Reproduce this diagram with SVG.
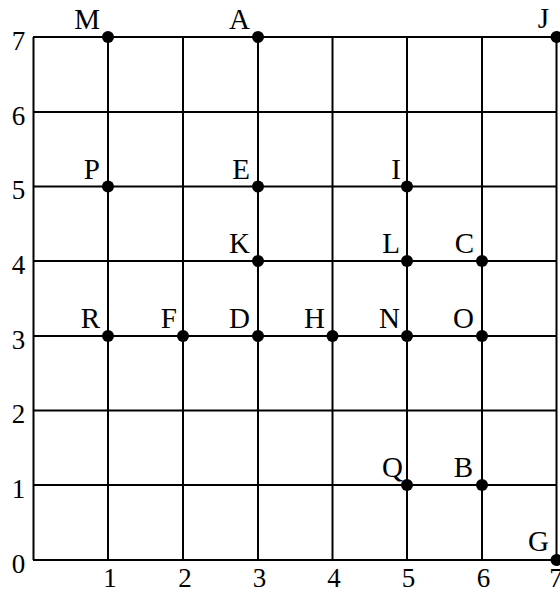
<svg xmlns="http://www.w3.org/2000/svg" width="560" height="593" viewBox="0 0 560 593">
<style>
.g{stroke:#000;stroke-width:2;fill:none}
.d{fill:#000}
.lb{font-family:"Liberation Serif","Times New Roman",serif;font-size:29px;fill:#000;text-anchor:end}
.ax{font-family:"Liberation Serif","Times New Roman",serif;font-size:27px;fill:#000;text-anchor:middle}
</style>
<rect width="560" height="593" fill="#fff"/>
<g id="connectors">
<path class="g" d="M33 37H557M33 112H557M33 186.5H557M33 261H557M33 336H557M33 410.5H557M33 485H557M33 560H557"/>
<path class="g" d="M33.5 37V560M108 37V560M183 37V560M258 37V560M332.5 37V560M407 37V560M482 37V560M556.5 37V560"/>
</g>
<g id="axes">
<text class="ax" x="18.5" y="49.5">7</text>
<text class="ax" x="18.5" y="124.5">6</text>
<text class="ax" x="18.5" y="199">5</text>
<text class="ax" x="18.5" y="273.5">4</text>
<text class="ax" x="18.5" y="348.5">3</text>
<text class="ax" x="18.5" y="423">2</text>
<text class="ax" x="18.5" y="497.5">1</text>
<text class="ax" x="18.5" y="572.5">0</text>
<text class="ax" x="110" y="587">1</text>
<text class="ax" x="185" y="587">2</text>
<text class="ax" x="259.5" y="587">3</text>
<text class="ax" x="334" y="587">4</text>
<text class="ax" x="408.5" y="587">5</text>
<text class="ax" x="483.5" y="587">6</text>
<text class="ax" x="556" y="587">7</text>
</g>
<g id="M"><circle class="d" cx="108" cy="37" r="6"/><text class="lb" x="100" y="29">M</text></g>
<g id="A"><circle class="d" cx="258" cy="37" r="6"/><text class="lb" x="250" y="29">A</text></g>
<g id="J"><circle class="d" cx="556.5" cy="37" r="6"/><text class="lb" x="549" y="28">J</text></g>
<g id="P"><circle class="d" cx="108" cy="186.5" r="6"/><text class="lb" x="100" y="178.5">P</text></g>
<g id="E"><circle class="d" cx="258" cy="186.5" r="6"/><text class="lb" x="250" y="178.5">E</text></g>
<g id="I"><circle class="d" cx="407" cy="186.5" r="6"/><text class="lb" x="401" y="178.5">I</text></g>
<g id="K"><circle class="d" cx="258" cy="261" r="6"/><text class="lb" x="250" y="253">K</text></g>
<g id="L"><circle class="d" cx="407" cy="261" r="6"/><text class="lb" x="400" y="253">L</text></g>
<g id="C"><circle class="d" cx="482" cy="261" r="6"/><text class="lb" x="474" y="253">C</text></g>
<g id="R"><circle class="d" cx="108" cy="336" r="6"/><text class="lb" x="100" y="328">R</text></g>
<g id="F"><circle class="d" cx="183" cy="336" r="6"/><text class="lb" x="177" y="328">F</text></g>
<g id="D"><circle class="d" cx="258" cy="336" r="6"/><text class="lb" x="250" y="328">D</text></g>
<g id="H"><circle class="d" cx="332.5" cy="336" r="6"/><text class="lb" x="325" y="328">H</text></g>
<g id="N"><circle class="d" cx="407" cy="336" r="6"/><text class="lb" x="400" y="328">N</text></g>
<g id="O"><circle class="d" cx="482" cy="336" r="6"/><text class="lb" x="474" y="328">O</text></g>
<g id="Q"><circle class="d" cx="407" cy="485" r="6"/><text class="lb" x="403" y="477">Q</text></g>
<g id="B"><circle class="d" cx="482" cy="485" r="6"/><text class="lb" x="473" y="477">B</text></g>
<g id="G"><circle class="d" cx="556.5" cy="560" r="6"/><text class="lb" x="549" y="551">G</text></g>
</svg>
